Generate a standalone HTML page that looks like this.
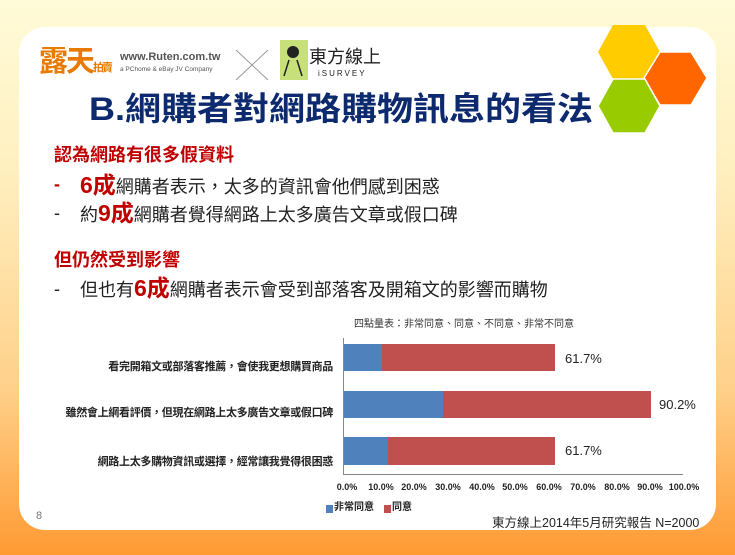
<!DOCTYPE html>
<html><head><meta charset="utf-8"><style>
body{margin:0;width:735px;height:555px;overflow:hidden;position:relative;font-family:"Liberation Sans","Noto Sans CJK TC",sans-serif;
background:linear-gradient(180deg,#fffbd8 0%,#fff0c0 30%,#ffd08a 70%,#ff9a33 100%);}
.card{position:absolute;left:19px;top:27px;width:697px;height:503px;background:#fff;border-radius:26px;}
.t{position:absolute;white-space:nowrap;line-height:1}
.red{color:#c00000;font-weight:bold}
.b{font-size:18px;color:#222}
.lab{position:absolute;right:402px;font-size:11px;font-weight:bold;color:#222;white-space:nowrap;line-height:1;letter-spacing:-0.3px}
.tick{position:absolute;top:483px;font-size:9px;font-weight:bold;color:#222;transform:translateX(-50%);line-height:1}
</style></head><body>
<div class="card"></div>
<div class="t" style="left:89px;top:91px;font-size:36px;font-weight:bold;color:#0d2a6e;transform:scaleY(0.9)">B.網購者對網路購物訊息的看法</div>
<svg width="735" height="555" style="position:absolute;left:0;top:0">
<polygon points="613,25 645,25 660,52 645,79 613,79 598,52" fill="#ffcc00"/>
<polygon points="660,52 691,52 707,78 691,105 660,105 644,78" fill="#ff6600" stroke="#fff" stroke-width="1.5"/>
<polygon points="613,79 645,79 660,106 645,133 613,133 598,106" fill="#99cc00" stroke="#fff" stroke-width="1.5"/>
<rect x="280" y="40" width="28" height="40" fill="#c8e07a"/>
<circle cx="293" cy="52" r="6" fill="#222"/><path d="M289 60 L284 76 M297 60 L302 76" stroke="#222" stroke-width="1.5"/>
<path d="M236 50 L268 80 M268 50 L236 80" stroke="#999" stroke-width="1"/>
<rect x="343" y="344" width="39" height="27" fill="#4f81bd"/>
<rect x="382" y="344" width="173" height="27" fill="#c0504d"/>
<rect x="343" y="391" width="100" height="27" fill="#4f81bd"/>
<rect x="443" y="391" width="208" height="27" fill="#c0504d"/>
<rect x="343" y="437" width="45" height="28" fill="#4f81bd"/>
<rect x="388" y="437" width="167" height="28" fill="#c0504d"/>
<line x1="343.5" y1="338" x2="343.5" y2="474" stroke="#888"/>
<line x1="343" y1="474.5" x2="683" y2="474.5" stroke="#888"/>
<rect x="326" y="505" width="7" height="8" fill="#4f81bd"/>
<rect x="384" y="505" width="7" height="8" fill="#c0504d"/>
</svg>
<div class="t" style="left:39px;top:48px;font-size:29px;font-weight:bold;color:#e87a00;letter-spacing:-2px">露天<span style="font-size:11px;color:#e87a00">拍賣</span></div>
<div class="t" style="left:120px;top:52px;font-size:11px;font-weight:bold;color:#555">www.Ruten.com.tw</div>
<div class="t" style="left:120px;top:67px;font-size:6.5px;color:#555">a PChome &amp; eBay JV Company</div>
<div class="t" style="left:309px;top:48px;font-size:18px;color:#222">東方線上</div>
<div class="t" style="left:318px;top:70px;font-size:8px;color:#222;letter-spacing:2px">iSURVEY</div>
<div class="t red" style="left:54px;top:146px;font-size:18px">認為網路有很多假資料</div>
<div class="t red" style="left:54px;top:175px;font-size:18px">-</div>
<div class="t b" style="left:80px;top:174px"><span class="red" style="font-size:23px">6成</span>網購者表示，太多的資訊會他們感到困惑</div>
<div class="t b" style="left:54px;top:204px">-</div>
<div class="t b" style="left:80px;top:202px">約<span class="red" style="font-size:23px">9成</span>網購者覺得網路上太多廣告文章或假口碑</div>
<div class="t red" style="left:54px;top:251px;font-size:18px">但仍然受到影響</div>
<div class="t b" style="left:54px;top:280px">-</div>
<div class="t b" style="left:80px;top:277px">但也有<span class="red" style="font-size:23px">6成</span>網購者表示會受到部落客及開箱文的影響而購物</div>
<div class="t" style="left:354px;top:320px;font-size:10px;color:#333">四點量表：非常同意、同意、不同意、非常不同意</div>
<div class="lab" style="top:362px">看完開箱文或部落客推薦，會使我更想購買商品</div>
<div class="lab" style="top:408px">雖然會上網看評價，但現在網路上太多廣告文章或假口碑</div>
<div class="lab" style="top:457px">網路上太多購物資訊或選擇，經常讓我覺得很困惑</div>
<div class="t" style="left:565px;top:352px;font-size:13px;color:#222">61.7%</div>
<div class="t" style="left:659px;top:398px;font-size:13px;color:#222">90.2%</div>
<div class="t" style="left:565px;top:444px;font-size:13px;color:#222">61.7%</div>
<div class="tick" style="left:347px">0.0%</div><div class="tick" style="left:381px">10.0%</div><div class="tick" style="left:414px">20.0%</div><div class="tick" style="left:448px">30.0%</div><div class="tick" style="left:482px">40.0%</div><div class="tick" style="left:515px">50.0%</div><div class="tick" style="left:549px">60.0%</div><div class="tick" style="left:583px">70.0%</div><div class="tick" style="left:617px">80.0%</div><div class="tick" style="left:650px">90.0%</div><div class="tick" style="left:684px">100.0%</div>
<div class="t" style="left:334px;top:503px;font-size:10px;font-weight:bold;color:#222">非常同意</div>
<div class="t" style="left:392px;top:503px;font-size:10px;font-weight:bold;color:#222">同意</div>
<div class="t" style="left:36px;top:511px;font-size:11px;color:#777">8</div>
<div class="t" style="left:492px;top:517px;font-size:12.5px;color:#222">東方線上2014年5月研究報告 N=2000</div>
</body></html>
